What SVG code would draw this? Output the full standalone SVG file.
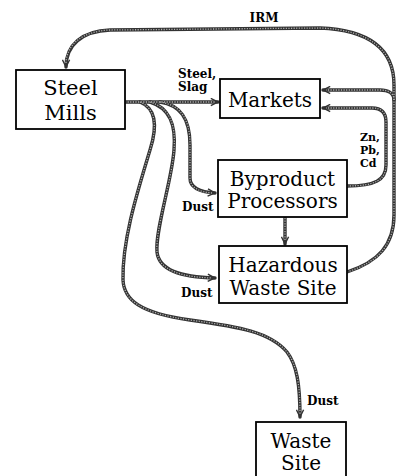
<svg xmlns="http://www.w3.org/2000/svg" width="397" height="476" viewBox="0 0 397 476">
<style>
.box{fill:#fff;stroke:#000;stroke-width:1.8}
.t{font-family:"DejaVu Serif","Liberation Serif",serif;font-size:20px;fill:#000;text-anchor:middle}
.l{font-family:"DejaVu Serif","Liberation Serif",serif;font-size:12px;font-weight:bold;fill:#000}
.s{font-size:11px}
.c1{fill:none;stroke:#333;stroke-width:3.4;stroke-linecap:round}
.c2{fill:none;stroke:#b0b0b0;stroke-width:1.3;stroke-dasharray:1.2 1.4}
</style>
<defs>
<marker id="ah" viewBox="0 0 10 10" refX="9" refY="5" markerWidth="9" markerHeight="9" markerUnits="userSpaceOnUse" orient="auto">
<path d="M1,1 L9,5 L1,9" fill="none" stroke="#333" stroke-width="1.6"/>
</marker>
</defs>
<g id="connectors">
<g class="c1" marker-end="url(#ah)">
<path id="p-irm" d="M347,272 C378,262 394,245 394,215 L394,85 C394,50 370,30 320,28 L110,30 C82,31 66,45 66,67"/>
<path id="p-mkt1" d="M394,100 C394,93 388,90 380,90 L323,90"/>
<path id="p-mkt2" d="M347,186 C375,186 386,180 386,165 L386,122 C386,113 382,108 372,108 L323,108"/>
<path id="p-steel" d="M125,102 L218,102"/>
<path id="p-byp" d="M160,102 C180,105 190,118 190,145 L190,178 C190,188 200,192 215,193"/>
<path id="p-haz" d="M150,102 C170,108 176,125 174,150 C172,180 155,230 157,252 C159,270 180,277 215,278"/>
<path id="p-waste" d="M140,102 C155,108 158,125 150,150 C138,190 122,240 123,280 C124,300 140,313 190,320 C240,327 270,332 287,352 C297,365 300,385 300,417"/>
<path id="p-bh" d="M285,218 L285,244"/>
</g>
<g class="c2">
<path d="M347,272 C378,262 394,245 394,215 L394,85 C394,50 370,30 320,28 L110,30 C82,31 66,45 66,64"/>
<path d="M394,100 C394,93 388,90 380,90 L326,90"/>
<path d="M347,186 C375,186 386,180 386,165 L386,122 C386,113 382,108 372,108 L326,108"/>
<path d="M125,102 L215,102"/>
<path d="M160,102 C180,105 190,118 190,145 L190,178 C190,188 200,192 212,193"/>
<path d="M150,102 C170,108 176,125 174,150 C172,180 155,230 157,252 C159,270 180,277 212,278"/>
<path d="M140,102 C155,108 158,125 150,150 C138,190 122,240 123,280 C124,300 140,313 190,320 C240,327 270,332 287,352 C297,365 300,385 300,414"/>
<path d="M285,218 L285,241"/>
</g>
</g>
<g id="steel-mills">
<rect class="box" x="16" y="70" width="109" height="59"/>
<text class="t" x="70.5" y="95" style="font-size:21px">Steel</text>
<text class="t" x="70.5" y="120" style="font-size:21px">Mills</text>
</g>
<g id="markets">
<rect class="box" x="220" y="79" width="100" height="39"/>
<text class="t" x="270" y="107">Markets</text>
</g>
<g id="byproduct-processors">
<rect class="box" x="218" y="160" width="129" height="57"/>
<text class="t" x="282.5" y="186">Byproduct</text>
<text class="t" x="282.5" y="208">Processors</text>
</g>
<g id="hazardous-waste-site">
<rect class="box" x="219" y="246" width="128" height="57"/>
<text class="t" x="283" y="272">Hazardous</text>
<text class="t" x="283" y="295">Waste Site</text>
</g>
<g id="waste-site">
<rect class="box" x="256" y="422" width="90" height="62"/>
<text class="t" x="301" y="448">Waste</text>
<text class="t" x="301" y="470">Site</text>
</g>
<g id="labels">
<text class="l" x="264" y="22" text-anchor="middle">IRM</text>
<text class="l" x="178" y="78">Steel,</text>
<text class="l" x="178" y="91">Slag</text>
<text class="l s" x="360" y="141">Zn,</text>
<text class="l s" x="360" y="154">Pb,</text>
<text class="l s" x="360" y="167">Cd</text>
<text class="l" x="182" y="211">Dust</text>
<text class="l" x="181" y="297">Dust</text>
<text class="l" x="307" y="405">Dust</text>
</g>
</svg>
